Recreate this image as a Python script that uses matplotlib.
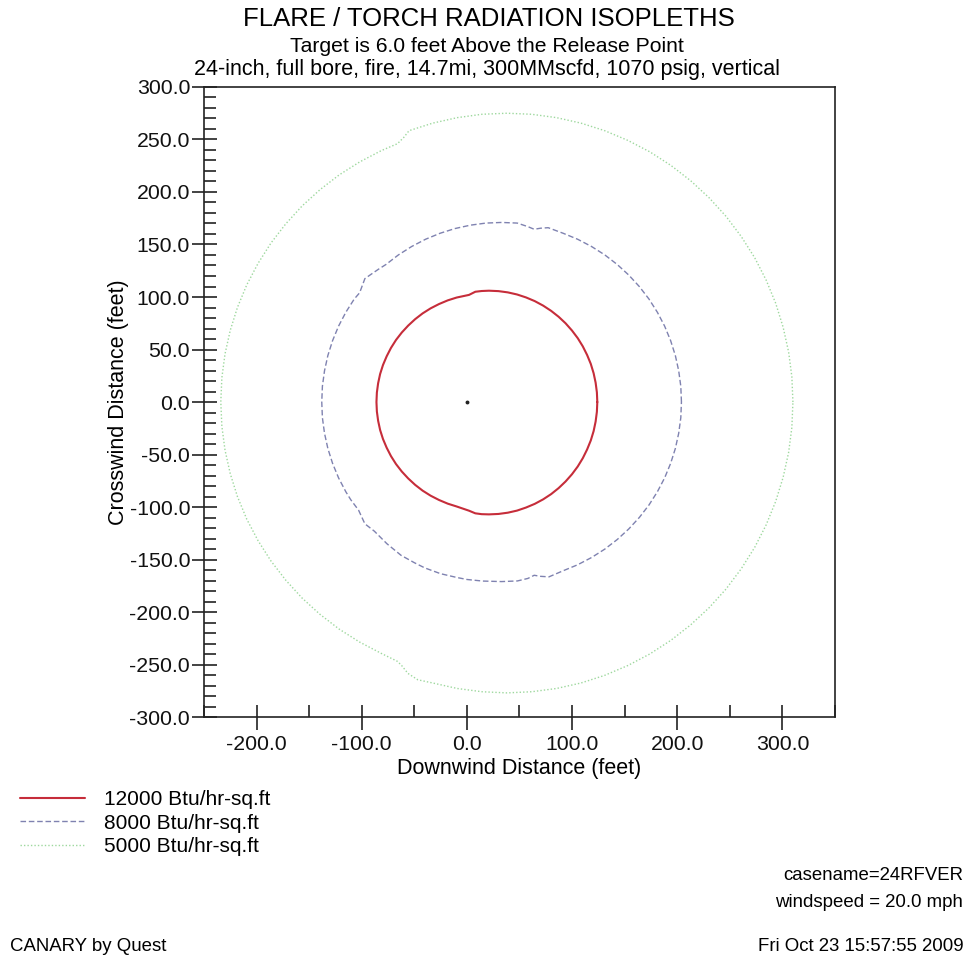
import matplotlib
matplotlib.use("Agg")
import matplotlib.pyplot as plt
from matplotlib.ticker import MultipleLocator, FormatStrFormatter

plt.rcParams['font.family'] = ['Liberation Sans', 'DejaVu Sans']

# ---- data (feet) ----
x_12000 = [124, 123.6, 122.4, 120.5, 117.8, 114.3, 110.2, 105.4, 99.9, 93.8, 87.2,
           80.1, 72.5, 64.5, 56.2, 47.7, 38.9, 30, 21, 14, 8, 2,
           -9.7, -18.2, -26.5, -34.5, -42.1, -49.2, -55.8, -61.9, -67.4, -72.2,
           -76.3, -79.8, -82.5, -84.4, -85.6, -86,
           -85.6, -84.4, -82.5, -79.8, -76.3, -72.2, -67.4, -61.9, -55.8, -49.2,
           -42.1, -34.5, -26.5, -18.2, -9.7, 2, 8, 14,
           21, 30, 38.9, 47.7, 56.2, 64.5, 72.5, 80.1, 87.2, 93.8, 99.9, 105.4,
           110.2, 114.3, 117.8, 120.5, 122.4, 123.6, 124]
y_12000 = [0, 9.2, 18.4, 27.4, 36.3, 44.8, 53, 60.8, 68.1, 75, 81.2,
           86.8, 91.8, 96.1, 99.6, 102.4, 104.4, 105.6, 106, 105.7, 105, 102,
           99.5, 96.8, 93.3, 89.2, 84.4, 78.9, 72.8, 66.2, 59.1, 51.5,
           43.5, 35.2, 26.7, 17.9, 9, 0,
           -9, -17.9, -26.7, -35.2, -43.5, -51.5, -59.1, -66.2, -72.8, -78.9,
           -84.4, -89.2, -93.3, -96.8, -99.5, -103.5, -106, -106.8,
           -107, -106.6, -105.4, -103.4, -100.5, -97, -92.7, -87.7, -82, -75.7, -68.8, -61.4,
           -53.5, -45.2, -36.6, -27.7, -18.6, -9.3, 0]

x_8000 = [204, 203.4, 201.4, 198.2, 193.7, 188, 181.1, 173.1, 164, 153.9, 142.9,
          131.1, 118.5, 105.3, 91.5, 77.3, 70, 64, 58, 47.9, 33, 18.1, 3.3,
          -11.3, -25.5, -39.3, -52.5, -65.1, -76.9, -84, -92, -97, -102, -107.1,
          -115.1, -122, -127.7, -132.2, -135.4, -137.4, -138,
          -137.4, -135.4, -132.2, -127.7, -122, -115.1, -110.4, -103, -97, -88,
          -76, -62.6, -50, -40, -25, -10, 0, 15, 33, 48, 58, 64, 70, 78,
          91.5, 105.3, 118.5, 131.1, 142.9, 153.9, 164, 173.1, 181.1, 188,
          193.7, 198.2, 201.4, 203.4, 204]
y_8000 = [0, 14.9, 29.7, 44.3, 58.5, 72.3, 85.5, 98.1, 109.9, 120.9, 131,
          140.1, 148.1, 155, 160.7, 166, 165.5, 164.5, 167, 170.4, 171, 170.4, 168.4,
          165.2, 160.7, 155, 148.1, 140.1, 131, 126.5, 121, 117.5, 104, 98.1,
          85.5, 72.3, 58.5, 44.3, 29.7, 14.9, 0,
          -14.9, -29.7, -44.3, -58.5, -72.3, -85.5, -93.1, -103, -116, -123,
          -135, -146, -153, -158, -163.5, -167, -169, -170.5, -171, -170.4, -168, -165, -166, -166.5,
          -160.7, -155, -148.1, -140.1, -131, -120.9, -109.9, -98.1, -85.5, -72.3,
          -58.5, -44.3, -29.7, -14.9, 0]

x_5000 = [310, 309, 305.9, 300.7, 293.6, 284.5, 273.6, 260.8, 246.4, 230.3, 212.8,
          194, 174, 152.9, 131, 108.4, 85.2, 61.7, 38, 14.3, -9.2, -32.4, -55,
          -60, -66, -81.6, -102, -121.4, -139.7, -156.7, -172.2, -186.3, -198.6,
          -209.3, -218.1, -225, -230, -233, -234,
          -233, -230, -225, -218.1, -209.3, -198.6, -186.3, -172.2, -156.7, -139.7,
          -121.4, -102, -81.6, -66, -62, -56, -46.7, -32.4, -9.2, 14.3, 38,
          61.7, 85.2, 108.4, 131, 152.9, 174, 194, 212.8, 230.3, 246.4, 260.8,
          273.6, 284.5, 293.6, 300.7, 305.9, 309, 310]
y_5000 = [0, 24, 47.7, 71.2, 94.1, 116.2, 137.5, 157.7, 176.8, 194.5, 210.7,
          225.3, 238.2, 249.2, 258.4, 265.6, 270.8, 274, 275, 274, 270.8, 265.6, 258.4,
          252, 246, 239.3, 228.6, 216.3, 202.2, 186.7, 169.7, 151.4, 132,
          111.6, 90.3, 68.3, 45.8, 23, 0,
          -23, -45.8, -68.3, -90.3, -111.6, -132, -151.4, -169.7, -186.7, -202.2,
          -216.3, -228.6, -239.3, -247, -251, -258.5, -264.5, -267.6, -272.8, -275.9, -277,
          -275.9, -272.8, -267.6, -260.3, -251, -239.9, -226.9, -212.2, -195.9, -178.1, -158.9,
          -138.5, -117.1, -94.7, -71.7, -48.1, -24.2, 0]

release_x = [0.0]
release_y = [0.0]

labels = ["12000 Btu/hr-sq.ft", "8000 Btu/hr-sq.ft", "5000 Btu/hr-sq.ft"]

fig = plt.figure(figsize=(9.69, 9.59), dpi=100)
ax = fig.add_axes([0.2105, 0.2523, 0.6512, 0.657])

l1, = ax.plot(x_12000, y_12000, color='#c62d3a', lw=1.5, ls='-',
              solid_joinstyle='round', solid_capstyle='round')
l2, = ax.plot(x_8000, y_8000, color='#7f82b0', lw=1.0, ls=(0, (4, 2)))
l3, = ax.plot(x_5000, y_5000, color='#9ed89e', lw=1.0, ls=(0, (1, 1.5)))
ax.plot(release_x, release_y, 'o', color='#222222', ms=1.8)

ax.set_xlim(-250, 350)
ax.set_ylim(-300, 300)

ax.xaxis.set_major_locator(MultipleLocator(100))
ax.xaxis.set_minor_locator(MultipleLocator(50))
ax.yaxis.set_major_locator(MultipleLocator(50))
ax.yaxis.set_minor_locator(MultipleLocator(10))
ax.xaxis.set_major_formatter(FormatStrFormatter('%.1f'))
ax.yaxis.set_major_formatter(FormatStrFormatter('%.1f'))

ax.tick_params(axis='both', which='major', direction='inout', length=18,
               width=1.2, labelsize=15.3, color='#222222', labelcolor='#111111')
ax.tick_params(axis='x', which='major', pad=4)
ax.tick_params(axis='y', which='major', pad=1)
ax.tick_params(axis='both', which='minor', direction='in', length=8.5,
               width=1.2, color='#222222')
for sp in ax.spines.values():
    sp.set_linewidth(1.2)
    sp.set_color('#222222')

ax.set_xlabel("Downwind Distance (feet)", fontsize=15.5, labelpad=3)
ax.set_ylabel("Crosswind Distance (feet)", fontsize=15.5, labelpad=0)

fig.text(0.504, 0.980, "FLARE / TORCH RADIATION ISOPLETHS", ha='center', va='center', fontsize=18.5)
fig.text(0.503, 0.952, "Target is 6.0 feet Above the Release Point", ha='center', va='center', fontsize=15.2)
fig.text(0.503, 0.928, "24-inch, full bore, fire, 14.7mi, 300MMscfd, 1070 psig, vertical",
         ha='center', va='center', fontsize=15.5)

fig.legend([l1, l2, l3], labels, loc='upper left', bbox_to_anchor=(0.012, 0.185),
           frameon=False, fontsize=15, handlelength=3.1, handletextpad=0.95,
           labelspacing=0.22, borderaxespad=0)

fig.text(0.994, 0.087, "casename=24RFVER", ha='right', va='center', fontsize=13.4)
fig.text(0.994, 0.059, "windspeed = 20.0 mph", ha='right', va='center', fontsize=13.4)
fig.text(0.994, 0.013, "Fri Oct 23 15:57:55 2009", ha='right', va='center', fontsize=13.4)
fig.text(0.010, 0.013, "CANARY by Quest", ha='left', va='center', fontsize=13.4)

fig.savefig("out.png", dpi=100, facecolor='white')
